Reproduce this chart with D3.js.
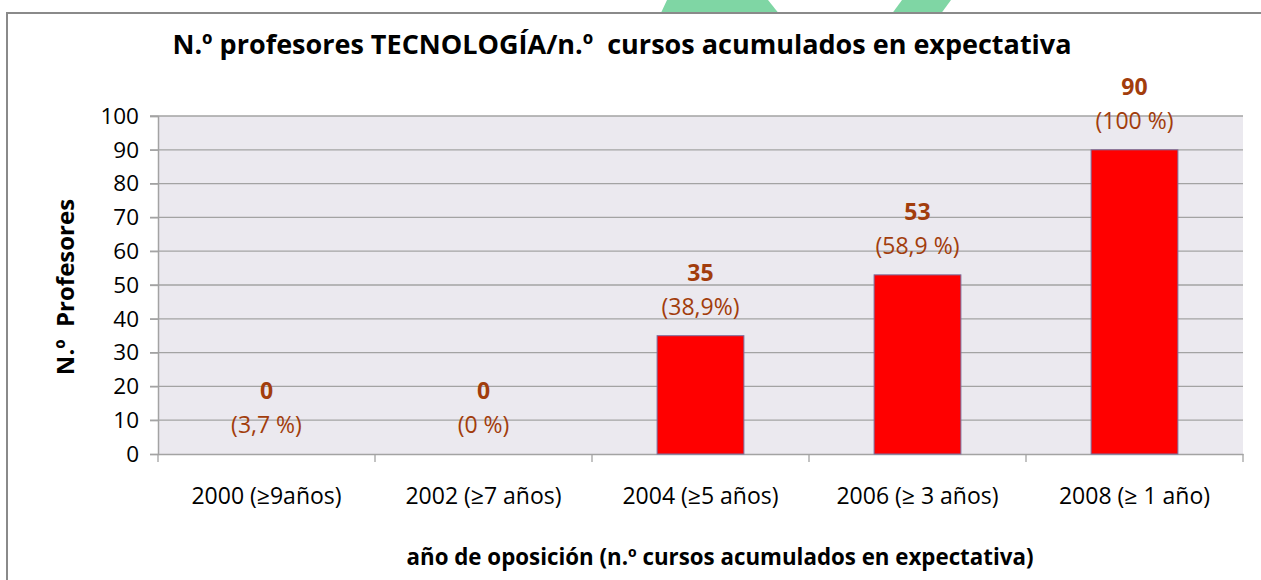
<!DOCTYPE html>
<html>
<head>
<meta charset="utf-8">
<script src="https://cdn.jsdelivr.net/npm/d3@7"></script>
<style>
  body { margin: 0; background: #fff; }
  svg { display: block; font-family: "Open Sans", sans-serif; }
</style>
</head>
<body>
<div id="chart"></div>
<script>
const categories = ["2000 (≥9años)", "2002 (≥7 años)", "2004 (≥5 años)", "2006 (≥ 3 años)", "2008 (≥ 1 año)"];
const profesores = [0, 0, 35, 53, 90];
const porcentajes = ["(3,7 %)", "(0 %)", "(38,9%)", "(58,9 %)", "(100 %)"];
const yTicks = [0, 10, 20, 30, 40, 50, 60, 70, 80, 90, 100];

const width = 1261, height = 580;
const plot = { left: 158, right: 1243, top: 116, bottom: 454 };
const font = "'Open Sans', sans-serif";

const svg = d3.select("#chart").append("svg")
    .attr("width", width)
    .attr("height", height);

// decorative green shapes above the frame
svg.append("polygon")
    .attr("points", "667,0 768,0 780,15 660,15")
    .attr("fill", "#7fd6a4");
svg.append("polygon")
    .attr("points", "902,0 951,0 940,15 891,15")
    .attr("fill", "#7fd6a4");

// frame
svg.append("rect")
    .attr("x", 7).attr("y", 13)
    .attr("width", 1270).attr("height", 600)
    .attr("fill", "#fff")
    .attr("stroke", "#8a8a8a")
    .attr("stroke-width", 2);

const x = d3.scaleBand()
    .domain(categories)
    .range([plot.left, plot.right])
    .paddingInner(0.6)
    .paddingOuter(0.3);

const y = d3.scaleLinear()
    .domain([0, 100])
    .range([plot.bottom, plot.top]);

// plot background
svg.append("rect")
    .attr("x", plot.left).attr("y", plot.top)
    .attr("width", plot.right - plot.left)
    .attr("height", plot.bottom - plot.top)
    .attr("fill", "#ebe9ef");

// gridlines
svg.append("g")
    .selectAll("line")
    .data(yTicks.filter(d => d > 0))
    .join("line")
    .attr("x1", plot.left - 8).attr("x2", plot.right)
    .attr("y1", d => y(d)).attr("y2", d => y(d))
    .attr("stroke", "#a3a3a3")
    .attr("stroke-width", 1.3);

// y axis
const yAxis = svg.append("g")
    .attr("transform", `translate(${plot.left},0)`)
    .call(d3.axisLeft(y).tickValues(yTicks).tickSize(8).tickPadding(11));
yAxis.select(".domain").attr("stroke", "#a3a3a3").attr("stroke-width", 1.5);
yAxis.selectAll(".tick line").attr("stroke", "#a3a3a3").attr("stroke-width", 1.3);
yAxis.selectAll(".tick text")
    .attr("font-size", 22.5).attr("fill", "#000")
    .attr("font-family", font);

// x axis
const xAxis = svg.append("g")
    .attr("transform", `translate(0,${plot.bottom})`)
    .call(d3.axisBottom(x).tickSize(0).tickPadding(34));
xAxis.select(".domain").attr("stroke", "#a3a3a3").attr("stroke-width", 1.5);
xAxis.selectAll(".tick text")
    .attr("font-size", 23).attr("fill", "#000")
    .attr("font-family", font);

// category boundary ticks
const boundaries = d3.range(categories.length + 1).map(i => plot.left + i * (plot.right - plot.left) / categories.length);
svg.append("g")
    .selectAll("line")
    .data(boundaries)
    .join("line")
    .attr("x1", d => d).attr("x2", d => d)
    .attr("y1", plot.bottom).attr("y2", plot.bottom + 8)
    .attr("stroke", "#a3a3a3")
    .attr("stroke-width", 1.3);

// bars
svg.append("g")
    .selectAll("rect")
    .data(profesores)
    .join("rect")
    .attr("x", (d, i) => x(categories[i]))
    .attr("y", d => y(d))
    .attr("width", x.bandwidth())
    .attr("height", d => y(0) - y(d))
    .attr("fill", "#ff0000")
    .attr("stroke", d => d > 0 ? "#7a6f9e" : "none")
    .attr("stroke-width", 1);

// value labels
svg.append("g")
    .selectAll("text")
    .data(profesores)
    .join("text")
    .attr("x", (d, i) => x(categories[i]) + x.bandwidth() / 2)
    .attr("y", d => y(d) - 63)
    .attr("dy", "0.35em")
    .attr("text-anchor", "middle")
    .attr("font-size", 23)
    .attr("font-weight", "bold")
    .attr("fill", "#a23d0c")
    .text(d => d);

svg.append("g")
    .selectAll("text")
    .data(porcentajes)
    .join("text")
    .attr("x", (d, i) => x(categories[i]) + x.bandwidth() / 2)
    .attr("y", (d, i) => y(profesores[i]) - 29)
    .attr("dy", "0.35em")
    .attr("text-anchor", "middle")
    .attr("font-size", 23)
    .attr("fill", "#a23d0c")
    .text(d => d);

// titles
svg.append("text")
    .attr("x", 622).attr("y", 45)
    .attr("dy", "0.35em")
    .attr("text-anchor", "middle")
    .attr("font-size", 27)
    .attr("font-weight", "bold")
    .attr("xml:space", "preserve")
    .text("N.º profesores TECNOLOGÍA/n.º  cursos acumulados en expectativa");

svg.append("text")
    .attr("x", 720).attr("y", 557)
    .attr("dy", "0.35em")
    .attr("text-anchor", "middle")
    .attr("font-size", 22.3)
    .attr("font-weight", "bold")
    .text("año de oposición (n.º cursos acumulados en expectativa)");

svg.append("text")
    .attr("transform", "translate(66,287) rotate(-90)")
    .attr("dy", "0.35em")
    .attr("text-anchor", "middle")
    .attr("font-size", 24)
    .attr("font-weight", "bold")
    .attr("xml:space", "preserve")
    .text("N.º  Profesores");
</script>
</body>
</html>
